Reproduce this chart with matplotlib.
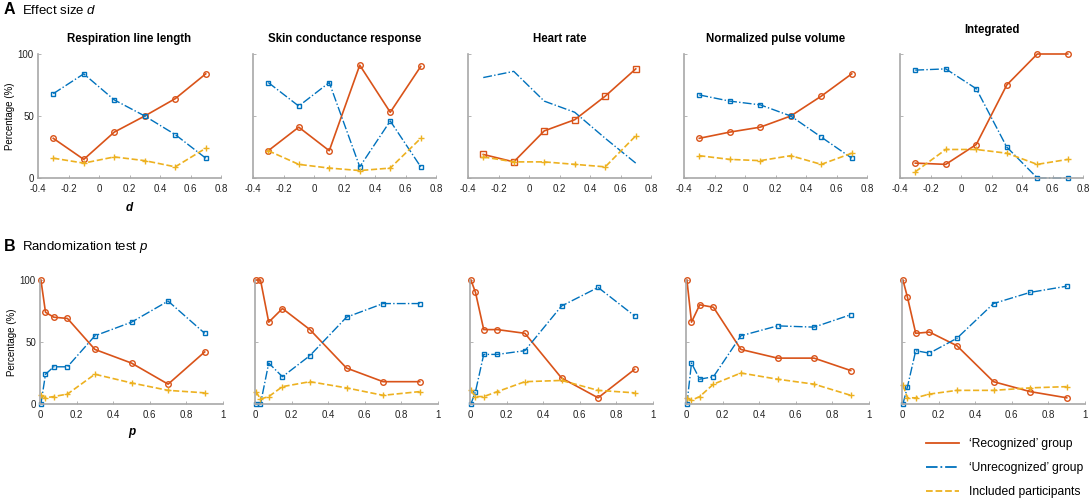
import matplotlib.pyplot as plt
import numpy as np

plt.rcParams['font.family'] = ['Liberation Sans', 'DejaVu Sans']
plt.rcParams['mathtext.fontset'] = 'custom'
plt.rcParams['mathtext.rm'] = 'Liberation Sans'
plt.rcParams['mathtext.it'] = 'Liberation Sans:italic'
plt.rcParams['mathtext.bf'] = 'Liberation Sans:bold'

# cores padrao do MATLAB
RED = '#D95319'
BLUE = '#0072BD'
YEL = '#EDB120'

titulos = ['Respiration line length', 'Skin conductance response', 'Heart rate',
           'Normalized pulse volume', 'Integrated']

# Linha A: tamanho de efeito d
d_x = [-0.3, -0.1, 0.1, 0.3, 0.5, 0.7]
d_rec = [[32, 15, 37, 50, 64, 84],
         [22, 41, 22, 91, 53, 90],
         [19, 13, 38, 47, 66, 88],
         [32, 37, 41, 50, 66, 84],
         [12, 11, 27, 75, 100, 100]]
d_unrec = [[68, 84, 63, 50, 35, 16],
           [77, 58, 77, 9, 46, 9],
           [81, 86, 62, 53, 32, 12],
           [67, 62, 59, 50, 33, 16],
           [87, 88, 72, 25, 0, 0]]
d_incl = [[16, 12, 17, 14, 9, 24],
          [22, 11, 8, 6, 8, 32],
          [17, 13, 13, 11, 9, 34],
          [18, 15, 14, 18, 11, 20],
          [5, 23, 23, 20, 11, 15]]

# Linha B: teste de aleatorizacao p
p_x = [0.005, 0.03, 0.075, 0.15, 0.3, 0.5, 0.7, 0.9]
p_rec = [[100, 74, 70, 69, 44, 33, 16, 42],
         [100, 100, 66, 77, 60, 29, 18, 18],
         [100, 90, 60, 60, 57, 21, 5, 28],
         [100, 66, 80, 78, 44, 37, 37, 27],
         [100, 86, 57, 58, 47, 18, 10, 5]]
p_unrec = [[0, 24, 30, 30, 55, 66, 83, 57],
           [0, 0, 33, 22, 39, 70, 81, 81],
           [0, 10, 40, 40, 43, 79, 94, 71],
           [0, 33, 20, 22, 55, 63, 62, 72],
           [0, 14, 43, 41, 53, 81, 90, 95]]
p_incl = [[7, 5, 6, 8, 24, 17, 11, 9],
          [10, 4, 6, 14, 18, 13, 7, 10],
          [11, 6, 6, 10, 18, 19, 11, 9],
          [5, 3, 6, 16, 25, 20, 16, 7],
          [15, 5, 5, 8, 11, 11, 13, 14]]

W, H = 1091, 501
fig = plt.figure(figsize=(W / 100, H / 100), dpi=100)

lefts = [38, 253, 468, 684, 900]
largura = 183


def estilo(ax, xlim, xticks, primeiro):
    ax.set_xlim(*xlim)
    ax.set_ylim(0, 100)
    ax.set_xticks(xticks)
    ax.set_xticklabels([f'{t:g}' for t in xticks])
    ax.set_yticks([0, 50, 100])
    if not primeiro:
        ax.set_yticklabels([])
    for s in ['top', 'right']:
        ax.spines[s].set_visible(False)
    for s in ['left', 'bottom']:
        ax.spines[s].set_color('#A8A8A8')
        ax.spines[s].set_linewidth(1.2)
    ax.tick_params(direction='in', length=2, width=0.6, color='#A8A8A8',
                   labelsize=7, labelcolor='#222222')
    ax.tick_params(axis='x', pad=4)
    ax.tick_params(axis='y', pad=3)
    ax.patch.set_alpha(0)


def desenha(ax, x, r, u, i, mr='o', mu='s'):
    ax.plot(x, r, '-', color=RED, lw=1.2, marker=mr, ms=4, mfc='none', mew=1, clip_on=False,
            label='\u2018Recognized\u2019 group')
    ax.plot(x, u, '-.', color=BLUE, lw=1.0, marker=mu, ms=3.5, mfc='none', mew=1, clip_on=False,
            label='\u2018Unrecognized\u2019 group')
    ax.plot(x, i, '--', color=YEL, lw=1.2, marker='+', ms=4, mew=1, clip_on=False,
            label='Included participants')


# linha de cima
for k in range(5):
    ax = fig.add_axes([lefts[k] / W, 1 - 178 / H, largura / W, 124 / H])
    mr = 's' if k == 2 else 'o'
    mu = 'None' if k == 2 else 's'
    desenha(ax, d_x, d_rec[k], d_unrec[k], d_incl[k], mr, mu)
    estilo(ax, (-0.4, 0.8), [-0.4, -0.2, 0, 0.2, 0.4, 0.6, 0.8], k == 0)
    ax.set_title(titulos[k], fontsize=8.3, fontweight='bold', pad=15 if k == 4 else 9)
    if k == 0:
        ax.set_ylabel('Percentage (%)', fontsize=7, labelpad=2)
        ax.set_xlabel('d', fontsize=8.5, fontweight='bold', style='italic', labelpad=6)

# linha de baixo
for k in range(5):
    ax = fig.add_axes([(lefts[k] + 2) / W, 1 - 404 / H, largura / W, 124 / H])
    desenha(ax, p_x, p_rec[k], p_unrec[k], p_incl[k])
    estilo(ax, (0, 1), [0, 0.2, 0.4, 0.6, 0.8, 1], k == 0)
    if k == 0:
        ax.set_ylabel('Percentage (%)', fontsize=7, labelpad=2)
        ax.set_xlabel('p', fontsize=8.5, fontweight='bold', style='italic', labelpad=5)
    ultimo = ax

# titulos das secoes
fig.text(4 / W, 1 - 10 / H, 'A', fontsize=11.5, fontweight='bold', va='center')
fig.text(22 / W, 1 - 10 / H, r'Effect size $d$', fontsize=9.5, va='center')
fig.text(4 / W, 1 - 247 / H, 'B', fontsize=11.5, fontweight='bold', va='center')
fig.text(22 / W, 1 - 247 / H, r'Randomization test $p$', fontsize=9.5, va='center')

# legenda
h, l = ultimo.get_legend_handles_labels()
hs = []
for c, ls in zip([RED, BLUE, YEL], ['-', '-.', '--']):
    hs.append(plt.Line2D([], [], color=c, ls=ls, lw=1.3))
fig.legend(hs, l, loc='upper left', bbox_to_anchor=(915 / W, 1 - 427 / H), frameon=False,
           fontsize=8.7, handlelength=2.7, labelspacing=1.0, handletextpad=0.9)

plt.savefig('out.png', dpi=100)
